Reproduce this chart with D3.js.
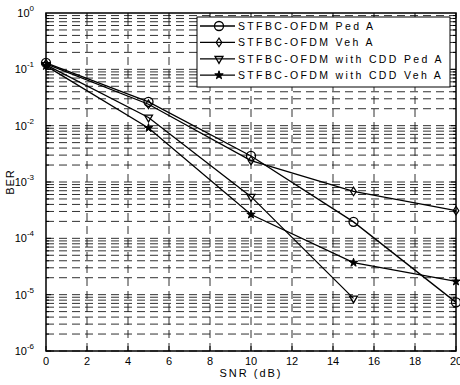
<!DOCTYPE html>
<html>
<head>
<meta charset="utf-8">
<script src="https://cdn.jsdelivr.net/npm/d3@7"></script>
<style>
  body { margin: 0; background: #fff; }
  svg { display: block; font-family: "Liberation Sans", Arial, sans-serif; }
</style>
</head>
<body>
<div id="chart"></div>
<script>
// data
const snr = [0, 5, 10, 15, 20]
const pedA = [0.13, 0.0265, 0.0029, 0.000196, 0.0000073]
const vehA = [0.125, 0.024, 0.0024, 0.00068, 0.00031]
const cddPedA = [0.12, 0.014, 0.00055, 0.0000086]
const cddVehA = [0.115, 0.0091, 0.000265, 0.000037, 0.0000172]
const seriesNames = [
  "STFBC-OFDM Ped A",
  "STFBC-OFDM Veh A",
  "STFBC-OFDM with CDD Ped A",
  "STFBC-OFDM with CDD Veh A"
]
const xTicks = [0, 2, 4, 6, 8, 10, 12, 14, 16, 18, 20]
const yExps = [0, -1, -2, -3, -4, -5, -6]

const width = 460, height = 385
const margin = { top: 13, right: 4, bottom: 34, left: 46 }

const series = [
  { name: seriesNames[0], values: pedA, marker: "circle" },
  { name: seriesNames[1], values: vehA, marker: "diamond" },
  { name: seriesNames[2], values: cddPedA, marker: "triangle" },
  { name: seriesNames[3], values: cddVehA, marker: "star" }
]

const svg = d3.select("#chart").append("svg")
  .attr("width", width)
  .attr("height", height)

const x = d3.scaleLinear().domain([0, 20]).range([margin.left, width - margin.right])
const y = d3.scaleLog().domain([1e-6, 1]).range([height - margin.bottom, margin.top])

const x0 = x.range()[0], x1 = x.range()[1]
const y0 = y.range()[0], y1 = y.range()[1]

// grid
const grid = svg.append("g")
  .attr("stroke", "#1a1a1a")
  .attr("stroke-width", 0.9)
  .attr("stroke-dasharray", "8,5")
  .attr("fill", "none")

const minorVals = []
for (let e = -6; e < 0; e++) {
  for (let m = 1; m < 10; m++) minorVals.push(m * Math.pow(10, e))
}
grid.selectAll("line.h")
  .data(minorVals)
  .join("line")
    .attr("class", "h")
    .attr("x1", x0).attr("x2", x1)
    .attr("y1", d => y(d)).attr("y2", d => y(d))

grid.selectAll("line.v")
  .data(xTicks.slice(1, -1))
  .join("line")
    .attr("class", "v")
    .attr("x1", d => x(d)).attr("x2", d => x(d))
    .attr("y1", y0).attr("y2", y1)

// inward ticks on all four sides
const ticks = svg.append("g").attr("stroke", "#000").attr("stroke-width", 1)
xTicks.forEach(t => {
  ticks.append("line").attr("x1", x(t)).attr("x2", x(t)).attr("y1", y0).attr("y2", y0 - 5)
  ticks.append("line").attr("x1", x(t)).attr("x2", x(t)).attr("y1", y1).attr("y2", y1 + 5)
})
minorVals.forEach(v => {
  const len = Math.abs(Math.log10(v) - Math.round(Math.log10(v))) < 1e-9 ? 5 : 3
  ticks.append("line").attr("x1", x0).attr("x2", x0 + len).attr("y1", y(v)).attr("y2", y(v))
  ticks.append("line").attr("x1", x1).attr("x2", x1 - len).attr("y1", y(v)).attr("y2", y(v))
})

// tick labels
svg.append("g")
  .selectAll("text")
  .data(xTicks)
  .join("text")
    .attr("x", d => x(d))
    .attr("y", y0 + 14)
    .attr("text-anchor", "middle")
    .attr("font-size", 11)
    .text(d => d)

const yl = svg.append("g")
  .selectAll("text")
  .data(yExps)
  .join("text")
    .attr("x", x0 - 12)
    .attr("y", d => y(Math.pow(10, d)) + 4)
    .attr("text-anchor", "end")
    .attr("font-size", 11)
yl.append("tspan").text("10")
yl.append("tspan")
  .attr("dy", -6)
  .attr("font-size", 8)
  .text(d => d)

// axis titles
svg.append("text")
  .attr("x", (x0 + x1) / 2)
  .attr("y", 377)
  .attr("text-anchor", "middle")
  .attr("font-size", 11)
  .attr("letter-spacing", 2)
  .text("SNR (dB)")

svg.append("text")
  .attr("transform", "translate(14," + ((y0 + y1) / 2) + ") rotate(-90)")
  .attr("text-anchor", "middle")
  .attr("font-size", 11)
  .attr("letter-spacing", 1)
  .text("BER")

// markers
function drawMarker(g, type) {
  if (type === "circle") {
    g.append("circle").attr("r", 4.5).attr("fill", "none").attr("stroke", "#000").attr("stroke-width", 1.3)
  } else if (type === "diamond") {
    g.append("path").attr("d", d3.symbol(d3.symbolDiamond2, 36)()).attr("transform", "scale(0.75,1.15)")
      .attr("fill", "none").attr("stroke", "#000").attr("stroke-width", 1.3)
  } else if (type === "triangle") {
    g.append("path").attr("d", d3.symbol(d3.symbolTriangle2, 45)()).attr("transform", "rotate(180)")
      .attr("fill", "none").attr("stroke", "#000").attr("stroke-width", 1.3)
  } else {
    g.append("path").attr("d", d3.symbol(d3.symbolStar, 22)())
      .attr("fill", "#000").attr("stroke", "#000").attr("stroke-width", 1)
  }
}

// lines
const line = d3.line()
  .x(d => x(d[0]))
  .y(d => y(d[1]))

const plot = svg.append("g")
series.forEach(s => {
  const pts = s.values.map((v, i) => [snr[i], v])
  plot.append("path")
    .datum(pts)
    .attr("fill", "none")
    .attr("stroke", "#000")
    .attr("stroke-width", 1.3)
    .attr("d", line)
  pts.forEach(p => {
    const g = plot.append("g").attr("transform", "translate(" + x(p[0]) + "," + y(p[1]) + ")")
    drawMarker(g, s.marker)
  })
})

// frame
svg.append("rect")
  .attr("x", x0).attr("y", y1)
  .attr("width", x1 - x0).attr("height", y0 - y1)
  .attr("fill", "none")
  .attr("stroke", "#000")
  .attr("stroke-width", 1.5)

// legend
const legend = svg.append("g").attr("transform", "translate(197,17)")
legend.append("rect")
  .attr("width", 253).attr("height", 70)
  .attr("fill", "#fff")
  .attr("stroke", "#000")
  .attr("stroke-width", 1)
series.forEach((s, i) => {
  const row = legend.append("g").attr("transform", "translate(0," + (9 + i * 16.4) + ")")
  row.append("line").attr("x1", 3).attr("x2", 38).attr("stroke", "#000").attr("stroke-width", 1.3)
  drawMarker(row.append("g").attr("transform", "translate(22,0)"), s.marker)
  row.append("text")
    .attr("x", 41)
    .attr("y", 4)
    .attr("font-size", 10.5)
    .attr("letter-spacing", 2.35)
    .text(s.name)
})
</script>
</body>
</html>
